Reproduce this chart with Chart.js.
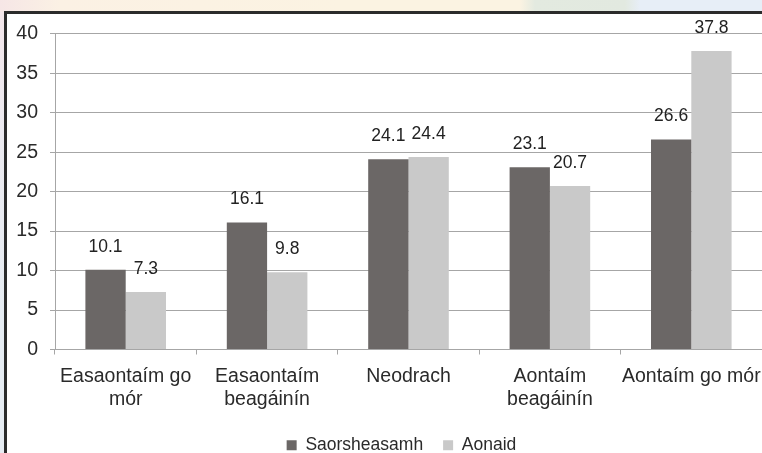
<!DOCTYPE html>
<html lang="ga">
<head>
  <meta charset="UTF-8">
  <title>Saorsheasamh agus Aonaid</title>
  <script src="https://cdn.jsdelivr.net/npm/chart.js"></script>
  <style>
    html, body { margin: 0; padding: 0; width: 762px; height: 453px; overflow: hidden; background: #e8edf3; }
    #topStrip { position: absolute; left: 0; top: 0; width: 762px; height: 12px;
      background: linear-gradient(to right, #f6e6e6 0px, #fbf1e4 60px, #fbf3e2 340px, #fbf3e2 520px, #e3eae0 535px, #e2e9e0 625px, #e7eef7 640px, #e7eef7 762px); }
    #leftStrip { position: absolute; left: 0; top: 12px; width: 5px; height: 441px;
      background: linear-gradient(to bottom, #f3e6ea 0px, #eceaf0 120px, #e6ecf2 300px, #e6ecf2 441px); }
    #frame { position: absolute; left: 4px; top: 11px; width: 800px; height: 460px;
      border-top: 3px solid #2b2b2b; border-left: 3px solid #2b2b2b; background: #fff; }
    #chartBox { position: absolute; left: 7px; top: 12px; width: 780px; height: 445px; }
  </style>
</head>
<body>
  <div id="topStrip"></div>
  <div id="leftStrip"></div>
  <div id="frame"></div>
  <div id="chartBox"><canvas id="myChart" width="780" height="445"></canvas></div>

  <script>
    // categories and series
    const categories = [['Easaontaím go', 'mór'], ['Easaontaím', 'beagáinín'], 'Neodrach', ['Aontaím', 'beagáinín'], 'Aontaím go mór'];
    const saorsheasamh = [10.1, 16.1, 24.1, 23.1, 26.6];
    const aonaid = [7.3, 9.8, 24.4, 20.7, 37.8];
    const seriesNames = ['Saorsheasamh', 'Aonaid'];
    const yTicks = [0, 5, 10, 15, 20, 25, 30, 35, 40];

    const fontFam = '"Liberation Sans", Arial, sans-serif';

    // draws the value above every bar
    const valueLabels = {
      id: 'valueLabels',
      afterDatasetsDraw(chart) {
        const ctx = chart.ctx;
        ctx.save();
        ctx.font = '17.5px ' + fontFam;
        ctx.fillStyle = '#222';
        ctx.textAlign = 'center';
        ctx.textBaseline = 'middle';
        chart.data.datasets.forEach((ds, i) => {
          chart.getDatasetMeta(i).data.forEach((bar, j) => {
            ctx.fillText(ds.data[j].toFixed(1), bar.x, bar.y - 23);
          });
        });
        ctx.restore();
      }
    };

    // the legend sits a little right of centre and lower in the original
    const legendShift = {
      id: 'legendShift',
      afterLayout(chart) {
        const lg = chart.legend;
        if (lg) { lg.left += 17; lg.right += 17; lg.top += 7; lg.bottom += 7; }
      }
    };

    const data = {
      labels: categories,
      datasets: [
        { label: seriesNames[0], data: saorsheasamh, backgroundColor: '#6b6766' },
        { label: seriesNames[1], data: aonaid, backgroundColor: '#c9c9c9' }
      ]
    };

    const config = {
      type: 'bar',
      data,
      options: {
        responsive: false,
        animation: false,
        layout: { padding: { top: 17, right: 25, left: 0, bottom: 0 } },
        datasets: { bar: { categoryPercentage: 0.57, barPercentage: 1.0 } },
        scales: {
          x: {
            grid: { offset: true, drawOnChartArea: false, color: '#a6a6a6', tickLength: 5 },
            border: { color: '#a6a6a6' },
            ticks: { color: '#2a2a2a', padding: 11, maxRotation: 0, autoSkip: false,
                     font: { family: fontFam, size: 19.5, lineHeight: 1.18 } },
            afterFit(scale) { scale.height = 60; }
          },
          y: {
            min: 0, max: 40,
            afterBuildTicks(scale) { scale.ticks = yTicks.map(v => ({ value: v })); },
            grid: { color: '#a6a6a6', tickLength: 5 },
            border: { color: '#a6a6a6' },
            ticks: { color: '#2a2a2a', padding: 12, font: { family: fontFam, size: 19.5, lineHeight: 1 } },
            afterFit(scale) { scale.width = 48; }
          }
        },
        plugins: {
          legend: {
            position: 'bottom',
            labels: { boxWidth: 10, boxHeight: 10, padding: 20, color: '#2a2a2a',
                      font: { family: fontFam, size: 17.5 } }
          },
          tooltip: { enabled: false }
        }
      },
      plugins: [valueLabels, legendShift]
    };

    new Chart(document.getElementById('myChart'), config);
  </script>
</body>
</html>
